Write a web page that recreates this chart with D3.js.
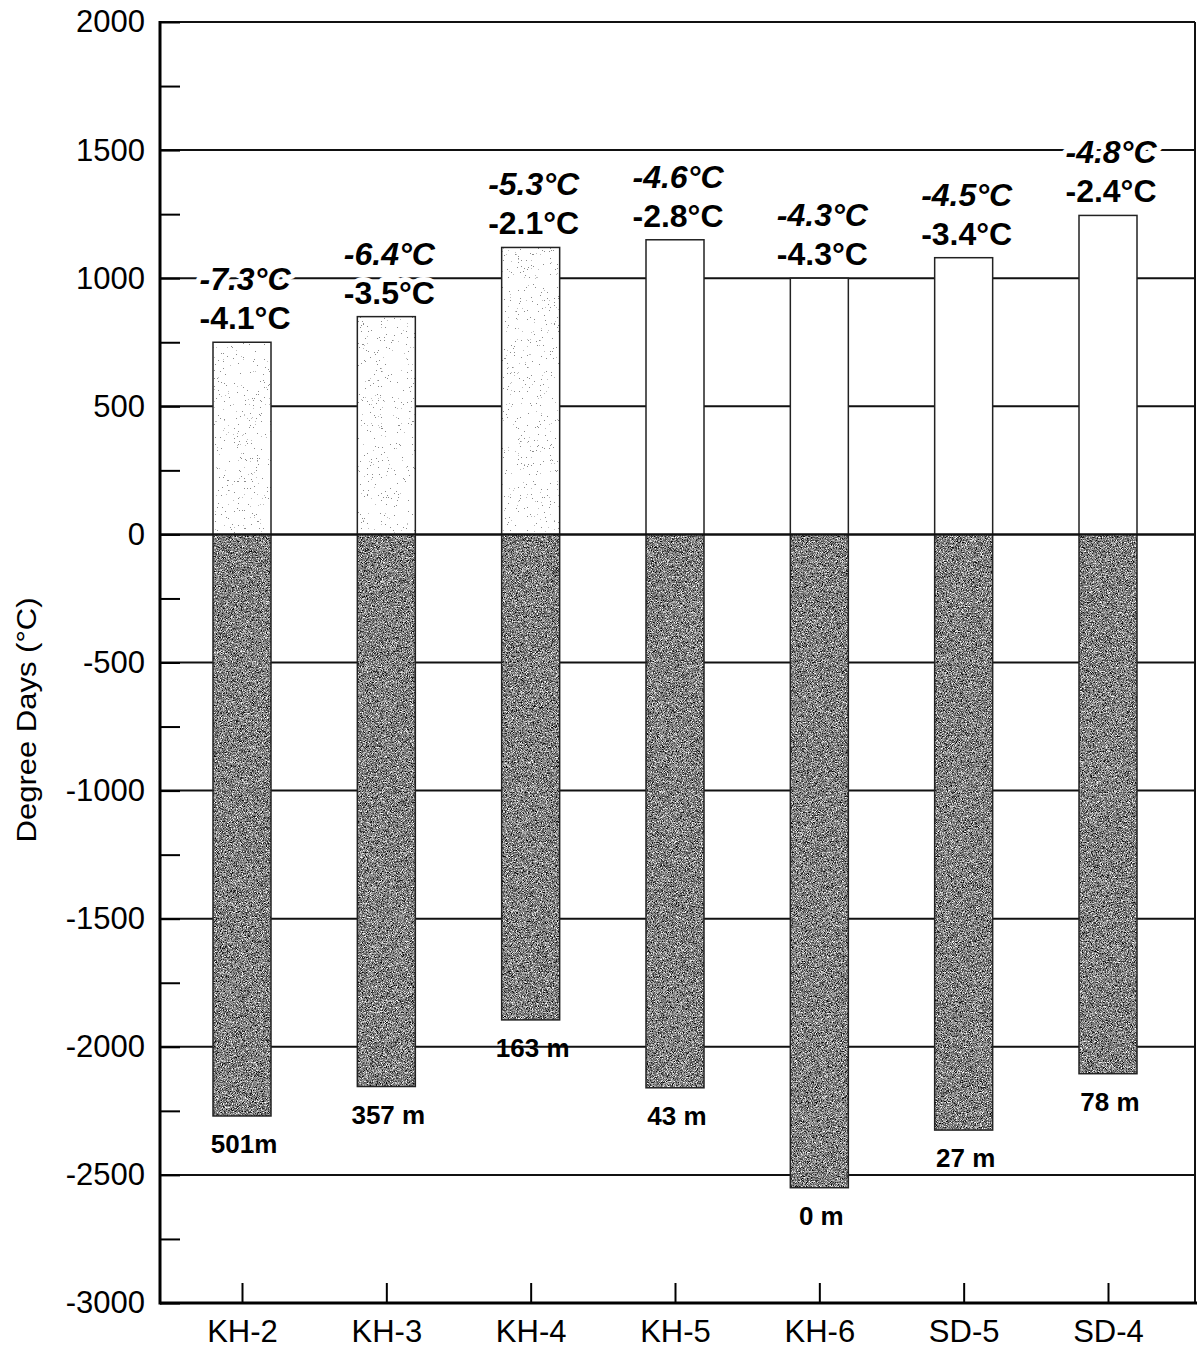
<!DOCTYPE html>
<html lang="en">
<head>
<meta charset="UTF-8">
<title>degree days</title>
<script src="https://cdn.jsdelivr.net/npm/d3@7"></script>
<style>
    body{ margin:0; background:#fff; }
    text{ font-family:"Liberation Sans", Arial, sans-serif; fill:#000; }
    .tick line{ stroke:#000; stroke-width:2px; }
    .grid{ stroke:#111; stroke-width:2px; }
    .frame{ stroke:#000; stroke-width:3px; }
    .temp{ font-weight:bold; font-size:32px; stroke:#fff; stroke-width:10px; paint-order:stroke; stroke-linejoin:round; }
    .elev{ font-weight:bold; font-size:26px; }
</style>
</head>
<body>
<svg id="chart" width="1197" height="1348"></svg>
<script>
    // site names along the bottom
    let sites = ["KH-2", "KH-3", "KH-4", "KH-5", "KH-6", "SD-5", "SD-4"]
    // thawing / freezing degree days
    let thawDD = [750, 850, 1120, 1150, 1000, 1080, 1245]
    let freezeDD = [-2270, -2155, -1895, -2160, -2550, -2325, -2105]
    // mean annual temps above each bar (air, surface)
    let airTemp = ["-7.3°C", "-6.4°C", "-5.3°C", "-4.6°C", "-4.3°C", "-4.5°C", "-4.8°C"]
    let surfTemp = ["-4.1°C", "-3.5°C", "-2.1°C", "-2.8°C", "-4.3°C", "-3.4°C", "-2.4°C"]
    // elevation below each bar
    let elevation = ["501m", "357 m", "163 m", "43 m", "0 m", "27 m", "78 m"]
    let yMajor = d3.range(-3000, 2001, 500)
    let yMinor = d3.range(-3000, 2001, 250)

    let svg = d3.select("#chart")
    let mLeft = 160, mRight = 1195, mTop = 22, mBottom = 1303
    let barW = 58

    let y = d3.scaleLinear().domain([-3000, 2000]).range([mBottom, mTop])
    let x = d3.scalePoint().domain(sites).range([242, 1108])

    let grayRows = "0.33 0.33 0.33 0 0 0.33 0.33 0.33 0 0 0.33 0.33 0.33 0 0 0 0 0 0 1"

    // stipple filters
    let defs = svg.append("defs")
    let grain = defs.append("filter").attr("id", "grain")
        .attr("x", 0).attr("y", 0).attr("width", 1).attr("height", 1)
        .attr("color-interpolation-filters", "sRGB")
    grain.append("feTurbulence").attr("type", "fractalNoise").attr("baseFrequency", 1.2)
        .attr("numOctaves", 2).attr("seed", 4).attr("result", "n")
    grain.append("feColorMatrix").attr("in", "n").attr("type", "matrix")
        .attr("values", grayRows).attr("result", "g")
    let ct = grain.append("feComponentTransfer").attr("in", "g").attr("result", "c")
    ;["feFuncR", "feFuncG", "feFuncB"].forEach(f =>
        ct.append(f).attr("type", "linear").attr("slope", 3.2).attr("intercept", -1.08))
    grain.append("feComposite").attr("in", "c").attr("in2", "SourceGraphic").attr("operator", "in")

    let dots = defs.append("filter").attr("id", "dots")
        .attr("x", 0).attr("y", 0).attr("width", 1).attr("height", 1)
        .attr("color-interpolation-filters", "sRGB")
    dots.append("feTurbulence").attr("type", "fractalNoise").attr("baseFrequency", 1.3)
        .attr("numOctaves", 2).attr("seed", 9).attr("result", "n")
    dots.append("feColorMatrix").attr("in", "n").attr("type", "matrix")
        .attr("values", grayRows).attr("result", "g")
    let dc = dots.append("feComponentTransfer").attr("in", "g").attr("result", "h")
    ;["feFuncR", "feFuncG", "feFuncB"].forEach(f =>
        dc.append(f).attr("type", "linear").attr("slope", 3.2).attr("intercept", -1.08))
    let dt = dots.append("feComponentTransfer").attr("in", "h").attr("result", "c")
    ;["feFuncR", "feFuncG", "feFuncB"].forEach(f =>
        dt.append(f).attr("type", "discrete")
            .attr("tableValues", "0.55 0.75 1 1 1 1 1 1 1 1 1 1 1 1 1 1 1 1 1 1 1 1 1 1 1 1 1 1 1 1"))
    dots.append("feComposite").attr("in", "c").attr("in2", "SourceGraphic").attr("operator", "in")

    // gridlines
    svg.append("g").selectAll("line")
        .data(yMajor.filter(d => d > -3000))
        .join("line")
        .attr("class", "grid")
        .attr("x1", mLeft).attr("x2", mRight)
        .attr("y1", d => y(d)).attr("y2", d => y(d))

    // right border
    svg.append("line").attr("class", "grid")
        .attr("x1", mRight).attr("x2", mRight).attr("y1", mTop).attr("y2", mBottom)

    // upper bars (thawing)
    let stippled = ["KH-2", "KH-3", "KH-4"]
    svg.append("g").selectAll("rect")
        .data(sites)
        .join("rect")
        .attr("x", d => x(d) - barW / 2)
        .attr("width", barW)
        .attr("y", (d, i) => y(thawDD[i]))
        .attr("height", (d, i) => y(0) - y(thawDD[i]))
        .attr("fill", "#fff")
        .attr("filter", d => stippled.includes(d) ? "url(#dots)" : null)
    // lower bars (freezing)
    svg.append("g").selectAll("rect")
        .data(sites)
        .join("rect")
        .attr("x", d => x(d) - barW / 2)
        .attr("width", barW)
        .attr("y", y(0))
        .attr("height", (d, i) => y(freezeDD[i]) - y(0))
        .attr("fill", "#888")
        .attr("filter", "url(#grain)")
    // bar outlines
    let outline = svg.append("g").attr("fill", "none").attr("stroke", "#222").attr("stroke-width", 1.5)
    outline.selectAll(".up").data(sites).join("rect").attr("class", "up")
        .attr("x", d => x(d) - barW / 2).attr("width", barW)
        .attr("y", (d, i) => y(thawDD[i]))
        .attr("height", (d, i) => y(0) - y(thawDD[i]))
    outline.selectAll(".dn").data(sites).join("rect").attr("class", "dn")
        .attr("x", d => x(d) - barW / 2).attr("width", barW)
        .attr("y", y(0))
        .attr("height", (d, i) => y(freezeDD[i]) - y(0))

    // zero line on top
    svg.append("line").attr("class", "grid")
        .attr("x1", mLeft).attr("x2", mRight).attr("y1", y(0)).attr("y2", y(0))

    // temperature labels
    let labels = svg.append("g").attr("text-anchor", "middle")
    labels.selectAll(".air").data(sites).join("text")
        .attr("class", "temp air")
        .attr("font-style", "italic")
        .attr("x", d => x(d) + 3)
        .attr("y", (d, i) => y(thawDD[i]) - 52)
        .text((d, i) => airTemp[i])
    labels.selectAll(".surf").data(sites).join("text")
        .attr("class", "temp surf")
        .attr("x", d => x(d) + 3)
        .attr("y", (d, i) => y(thawDD[i]) - 13)
        .text((d, i) => surfTemp[i])
    labels.selectAll(".elev").data(sites).join("text")
        .attr("class", "elev")
        .attr("x", d => x(d) + 2)
        .attr("y", (d, i) => y(freezeDD[i]) + 37)
        .text((d, i) => elevation[i])

    // y axis
    let yAxis = svg.append("g")
        .attr("transform", `translate(${mLeft},0)`)
        .call(d3.axisLeft(y)
            .tickValues(yMinor)
            .tickSizeInner(-20)
            .tickSizeOuter(0)
            .tickPadding(15)
            .tickFormat(d => d % 500 === 0 ? String(d) : ""))
    yAxis.select(".domain").remove()
    yAxis.selectAll("text").attr("font-size", 31).attr("font-family", "Liberation Sans, Arial")

    // x axis
    let xAxis = svg.append("g")
        .attr("transform", `translate(0,${mBottom})`)
        .call(d3.axisBottom(x)
            .tickSizeInner(-20)
            .tickSizeOuter(0)
            .tickPadding(17))
    xAxis.select(".domain").remove()
    xAxis.selectAll("text").attr("font-size", 31).attr("font-family", "Liberation Sans, Arial")

    // frame lines
    svg.append("line").attr("class", "frame")
        .attr("x1", mLeft).attr("x2", mLeft).attr("y1", mTop - 1).attr("y2", mBottom + 1.5)
    svg.append("line").attr("class", "frame")
        .attr("x1", mLeft).attr("x2", 1197).attr("y1", mBottom).attr("y2", mBottom)

    // y title
    svg.append("text")
        .attr("transform", "translate(36,720) rotate(-90)")
        .attr("text-anchor", "middle")
        .attr("font-size", 27)
        .attr("textLength", 245)
        .attr("lengthAdjust", "spacingAndGlyphs")
        .text("Degree Days (°C)")
</script>
</body>
</html>
